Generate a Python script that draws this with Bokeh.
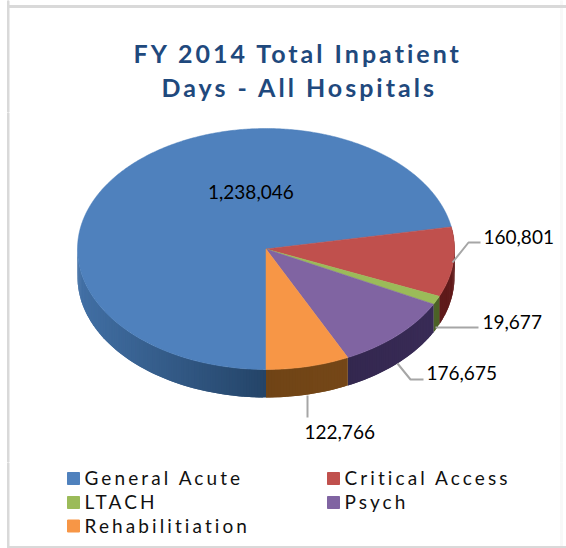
from math import pi, sin, cos
from bokeh.plotting import figure
from bokeh.layouts import column
from bokeh.models import Range1d
from bokeh.embed import file_html
from bokeh.resources import INLINE
from bokeh.core.properties import value

title_lines = ["FY 2014 Total Inpatient", "Days - All Hospitals"]
categories = ["General Acute", "Critical Access", "LTACH", "Psych", "Rehabilitiation"]
days = [1238046, 160801, 19677, 176675, 122766]
day_labels = ["1,238,046", "160,801", "19,677", "176,675", "122,766"]
top_colors = ["#4f81bd", "#c0504d", "#9bbb59", "#8064a2", "#f79646"]
side_light = [(66, 112, 165), (96, 26, 26), (78, 100, 40), (58, 44, 88), (122, 74, 24)]
side_dark = [(36, 68, 104), (70, 20, 20), (60, 80, 30), (46, 36, 72), (112, 68, 22)]

W, H = 566, 548
CX, CY, RX, RY, DEPTH = 265.5, 248.5, 188.5, 120.5, 28
FRAME = "#d9d9d9"
FONT = "Lato"


def panel(top, bottom, spacing):
    p = figure(width=W, height=bottom - top, output_backend="svg", toolbar_location=None,
               x_range=Range1d(0, W), y_range=Range1d(bottom, top), min_border=0,
               x_axis_type=None, y_axis_type=None, outline_line_color=None,
               background_fill_color="white", border_fill_color="white",
               styles={"letter-spacing": spacing})
    p.grid.visible = False
    return p


def frame(p, top, bottom):
    p.quad(left=[7], right=[8.5], top=[top], bottom=[bottom], color=FRAME)
    p.quad(left=[560], right=[562], top=[top], bottom=[bottom], color="#f8f8f8")


def mix(a, b, t):
    return "#%02x%02x%02x" % tuple(int(round(a[i] + (b[i] - a[i]) * t)) for i in range(3))


T0, T1, T2 = 0, 112, 462
# title
pt = panel(T0, T1, "3px")
frame(pt, T0, T1)
pt.quad(left=[7], right=[W], top=[5], bottom=[7], color=FRAME)
pt.text(x=[133, 161], y=[52, 86], text=title_lines, text_align="left", text_baseline="middle",
        text_font=value(FONT), text_font_style="bold", text_font_size="25px", text_color="#1f497d")

# pie
p = panel(T1, T2, "0px")
frame(p, T1, T2)
total = sum(days)
angles = [pi]
for d in days:
    angles.append(angles[-1] + 2 * pi * d / total)


def pt_xy(a, dy=0.0):
    return CX + RX * sin(a), CY - RY * cos(a) + dy


for i in range(5):
    a0, a1 = angles[i], angles[i + 1]
    n = max(2, int((a1 - a0) / 0.015))
    for k in range(n):
        s0 = a0 + (a1 - a0) * k / n
        s1 = a0 + (a1 - a0) * (k + 1) / n
        s2 = min(a1, s1 + (a1 - a0) / n)  # overlap the next strip to hide seams
        if cos((s0 + s1) / 2) > 0.02 and not (sin((s0 + s1) / 2) > 0.98):
            continue
        x0, y0 = pt_xy(s0)
        x1, y1 = pt_xy(s2)
        t = abs(sin((s0 + s1) / 2))
        c = mix(side_dark[i], side_light[i], t)
        p.patch([x0, x1, x1, x0], [y0, y1, y1 + DEPTH, y0 + DEPTH], color=c, line_color=None)

for i in range(5):
    a0, a1 = angles[i], angles[i + 1]
    n = max(8, int((a1 - a0) / 0.01))
    xs, ys = [CX], [CY]
    for k in range(n + 1):
        x, y = pt_xy(a0 + (a1 - a0) * k / n)
        xs.append(x)
        ys.append(y)
    p.patch(xs, ys, color=top_colors[i], line_color=top_colors[i], line_width=0.5)

lead_x = [[452, 468, 480], [435, 478], [397, 410, 423], [307, 307]]
lead_y = [[262, 242, 242], [327, 327], [363, 379, 379], [395, 417]]
p.multi_line(lead_x, lead_y, line_color="#a6a6a6", line_width=2)
lab_x = [207.5, 483, 482, 426, 304]
lab_y = [191, 236, 321, 372, 431]
p.text(x=lab_x, y=lab_y, text=day_labels, text_align="left", text_baseline="middle",
       text_font=value(FONT), text_font_size="19px", text_color="#000000")

# legend
pl = panel(T2, H, "3.1px")
frame(pl, T2, H)
pl.quad(left=[7], right=[W], top=[546], bottom=[548], color=FRAME)
leg_x = [67, 327, 67, 327, 67]
leg_y = [478, 478, 502, 502, 525.5]
text_x = [84, 344, 84, 344, 84]
pl.rect(x=[a + 6 for a in leg_x], y=leg_y, width=12, height=12, color=top_colors)
pl.text(x=text_x, y=[a - 1 for a in leg_y], text=categories, text_align="left", text_baseline="middle",
        text_font=value(FONT), text_font_size="19px", text_color="#111111")

layout = column(pt, p, pl, spacing=0, styles={"position": "absolute", "left": "0px", "top": "0px"})
open("out.html", "w").write(file_html(layout, INLINE))
